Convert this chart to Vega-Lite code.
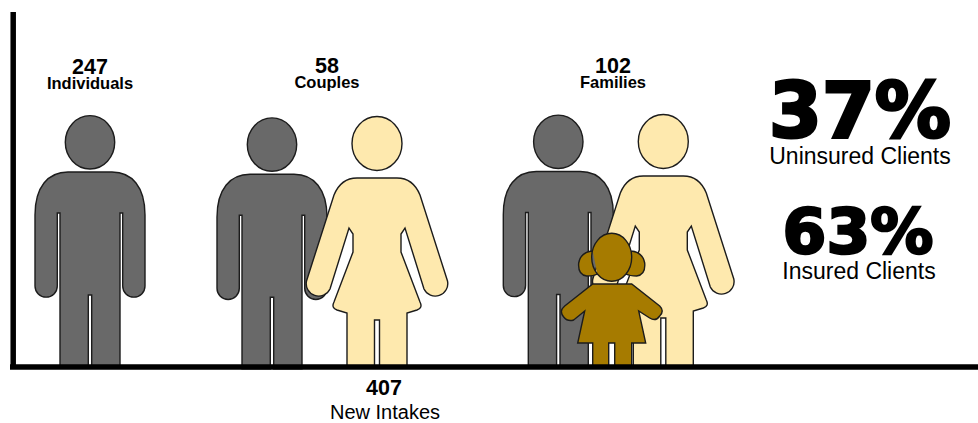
{
  "$schema": "https://vega.github.io/schema/vega-lite/v6.json",
  "autosize": {"type": "none"},
  "width": 978,
  "height": 423,
  "padding": 0,
  "background": "white",
  "config": {"view": {"stroke": null}},
  "datasets": {
    "figures": [
      {"group": "Individuals", "figure": "man", "px": 90, "py": 365},
      {"group": "Couples", "figure": "man", "px": 272, "py": 367.3},
      {"group": "Couples", "figure": "woman", "px": 377, "py": 365},
      {"group": "Families", "figure": "man", "px": 558.3, "py": 364.5},
      {"group": "Families", "figure": "woman", "px": 663.3, "py": 363},
      {"group": "Families", "figure": "child", "px": 611.7, "py": 365}
    ],
    "labels": [
      {"label": "247", "role": "count", "px": 90, "py": 74},
      {"label": "Individuals", "role": "group", "px": 90, "py": 89},
      {"label": "58", "role": "count", "px": 327, "py": 73},
      {"label": "Couples", "role": "group", "px": 327, "py": 88},
      {"label": "102", "role": "count", "px": 613, "py": 73},
      {"label": "Families", "role": "group", "px": 613, "py": 88},
      {"label": "407", "role": "total", "px": 384, "py": 395},
      {"label": "New Intakes", "role": "caption", "px": 385, "py": 419},
      {"label": "37%", "role": "big", "px": 860, "py": 137},
      {"label": "Uninsured Clients", "role": "caption2", "px": 860, "py": 164},
      {"label": "63%", "role": "mid", "px": 858, "py": 252.7},
      {"label": "Insured Clients", "role": "caption2", "px": 859, "py": 279}
    ],
    "frame": [
      {"axis": "y", "a": 13.2, "b": 13.2, "c": 12, "d": 369},
      {"axis": "x", "a": 10, "b": 978, "c": 367, "d": 367}
    ]
  },
  "data": {"name": "figures"},
  "encoding": {
    "x": {"field": "px", "type": "quantitative", "scale": {"domain": [0, 978]}, "axis": null},
    "y": {"field": "py", "type": "quantitative", "scale": {"domain": [423, 0]}, "axis": null}
  },
  "layer": [
    {
      "transform": [{"filter": "datum.figure === 'man'"}],
      "mark": {"type": "point", "filled": true, "size": 4, "fill": "#696969", "stroke": "#1c1c1c", "strokeWidth": 1.4, "opacity": 1,
        "shape": "M-30 1.5 V-152 H-32.7 V-79 A11.1 11.1 0 0 1 -55 -79 V-150 C-55 -178 -42 -193 -22 -193 H22 C42 -193 55 -178 55 -150 V-79 A11.1 11.1 0 0 1 32.7 -79 V-152 H30 V1.5 H1.7 V-70 H-1.7 V1.5 Z M24.7 -222.7 A24.7 26.7 0 1 1 -24.7 -222.7 A24.7 26.7 0 1 1 24.7 -222.7 Z"}
    },
    {
      "transform": [{"filter": "datum.figure === 'woman'"}],
      "mark": {"type": "point", "filled": true, "size": 4, "fill": "#FEE9AE", "stroke": "#1c1c1c", "strokeWidth": 1.4, "opacity": 1,
        "shape": "M-30 3 V-52 L-40 -55 Q-46 -57 -43 -63 L-24 -113 V-131 L-28 -137 L-47 -76 A12.5 12.5 0 0 1 -70.5 -84 L-43 -170 Q-36 -187 -20 -187 H20 Q36 -187 43 -170 L70.5 -84 A12.5 12.5 0 0 1 47 -76 L28 -137 L24 -131 V-113 L43 -63 Q46 -57 40 -55 L30 -52 V3 H2.5 V-45 H-2.5 V3 Z M25 -221.5 A25 27 0 1 1 -25 -221.5 A25 27 0 1 1 25 -221.5 Z"}
    },
    {
      "transform": [{"filter": "datum.figure === 'child'"}],
      "mark": {"type": "point", "filled": true, "size": 4, "fill": "#A67B00", "stroke": "#1c1c1c", "strokeWidth": 1.4, "opacity": 1,
        "shape": "M-19 -114 Q-31 -113 -33 -102 Q-34 -90 -25 -89 Q-18 -89 -14.4 -91 M19 -114 Q31 -113 33 -102 Q34 -90 25 -89 Q18 -89 14.4 -91 M20 -107.7 A20 24 0 1 1 -20 -107.7 A20 24 0 1 1 20 -107.7 Z M-19 -81 H20 L48 -59 Q53 -54 48 -49 Q44 -43 38 -47 L27 -54 L34 -22 H20 V1 H3 V-22 H-3 V1 H-19 V-22 H-34 L-27 -54 L-38 -45 Q-44 -43 -48 -48 Q-53 -54 -47 -59 Z"}
    },
    {
      "data": {"name": "frame"},
      "mark": {"type": "rule", "color": "#000000", "strokeWidth": 5.5},
      "encoding": {
        "x": {"field": "a", "type": "quantitative"},
        "x2": {"field": "b"},
        "y": {"field": "c", "type": "quantitative"},
        "y2": {"field": "d"}
      }
    },
    {
      "data": {"name": "labels"},
      "transform": [{"filter": "datum.role === 'count' || datum.role === 'total'"}],
      "mark": {"type": "text", "font": "Liberation Sans", "fontWeight": "bold", "fontSize": 21.5, "align": "center", "baseline": "alphabetic", "color": "#000000"},
      "encoding": {"text": {"field": "label"}}
    },
    {
      "data": {"name": "labels"},
      "transform": [{"filter": "datum.role === 'group'"}],
      "mark": {"type": "text", "font": "Liberation Sans", "fontWeight": "bold", "fontSize": 16.5, "align": "center", "baseline": "alphabetic", "color": "#000000"},
      "encoding": {"text": {"field": "label"}}
    },
    {
      "data": {"name": "labels"},
      "transform": [{"filter": "datum.role === 'caption'"}],
      "mark": {"type": "text", "font": "Liberation Sans", "fontSize": 20, "align": "center", "baseline": "alphabetic", "color": "#000000"},
      "encoding": {"text": {"field": "label"}}
    },
    {
      "data": {"name": "labels"},
      "transform": [{"filter": "datum.role === 'caption2'"}],
      "mark": {"type": "text", "font": "Liberation Sans", "fontSize": 23, "align": "center", "baseline": "alphabetic", "color": "#000000"},
      "encoding": {"text": {"field": "label"}}
    },
    {
      "data": {"name": "labels"},
      "transform": [{"filter": "datum.role === 'big'"}],
      "mark": {"type": "text", "font": "DejaVu Sans", "fontWeight": "bold", "fontSize": 76, "align": "center", "baseline": "alphabetic", "color": "#000000", "stroke": "#000000", "strokeWidth": 3},
      "encoding": {"text": {"field": "label"}}
    },
    {
      "data": {"name": "labels"},
      "transform": [{"filter": "datum.role === 'mid'"}],
      "mark": {"type": "text", "font": "DejaVu Sans", "fontWeight": "bold", "fontSize": 63, "align": "center", "baseline": "alphabetic", "color": "#000000", "stroke": "#000000", "strokeWidth": 2.5},
      "encoding": {"text": {"field": "label"}}
    }
  ]
}
